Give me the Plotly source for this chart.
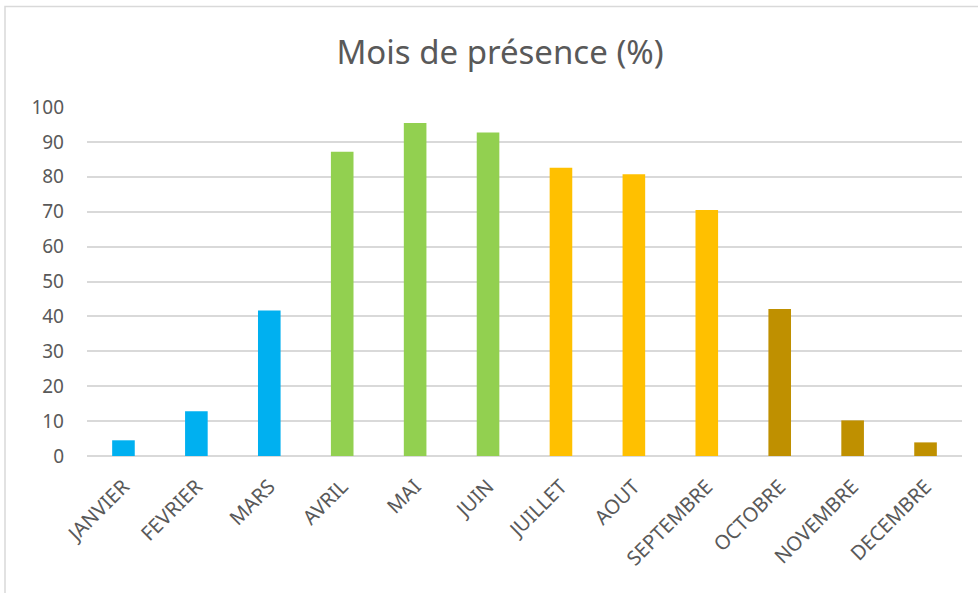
import plotly.graph_objects as go

months = ["JANVIER", "FEVRIER", "MARS", "AVRIL", "MAI", "JUIN", "JUILLET",
          "AOUT", "SEPTEMBRE", "OCTOBRE", "NOVEMBRE", "DECEMBRE"]
presence = [4.5, 12.8, 41.7, 87.2, 95.4, 92.7, 82.6, 80.7, 70.5, 42.1, 10.2, 3.9]
bar_colors = ["#00B0F0", "#00B0F0", "#00B0F0",
              "#92D050", "#92D050", "#92D050",
              "#FFC000", "#FFC000", "#FFC000",
              "#BF9000", "#BF9000", "#BF9000"]
y_ticks = [0, 10, 20, 30, 40, 50, 60, 70, 80, 90, 100]

W, H = 978, 593
L, T = 87, 107
pw, ph = 875, 349
R = W - L - pw
B = H - T - ph

fig = go.Figure(go.Bar(
    x=months, y=presence, marker_color=bar_colors,
    marker_line_width=0, width=0.31,
))

def px2x(px):
    return (px - L) / pw

def py2y(py):
    return (T + ph - py) / ph

fig.update_layout(
    width=W, height=H,
    margin=dict(l=L, r=R, t=T, b=B),
    paper_bgcolor="white", plot_bgcolor="white",
    font=dict(family="Noto Sans, Open Sans, sans-serif", color="#595959"),
    title=dict(text="Mois de présence (%)", x=500 / W,
               xanchor="center", y=1 - 52 / H, yanchor="middle",
               font=dict(size=33, color="#595959")),
    showlegend=False,
    xaxis=dict(tickangle=-45, tickfont=dict(size=20, color="#595959"),
               showgrid=False, showline=False, ticks="", ticklabelstandoff=14),
    yaxis=dict(range=[0, 100], tickvals=y_ticks, tickfont=dict(size=19, color="#595959"),
               showgrid=True, gridcolor="#d9d9d9", gridwidth=1.5,
               zeroline=True, zerolinecolor="#d9d9d9", zerolinewidth=1.5,
               showline=False, ticks="", ticklabelstandoff=22),
    shapes=[dict(type="rect", xref="paper", yref="paper",
                 x0=px2x(5), x1=px2x(1000), y0=py2y(620), y1=py2y(6.5),
                 line=dict(color="#d9d9d9", width=1.5), fillcolor="rgba(0,0,0,0)",
                 layer="below")],
)

fig.write_html("out.html", config={"displayModeBar": False},
               post_script="document.body.style.margin='0';")
